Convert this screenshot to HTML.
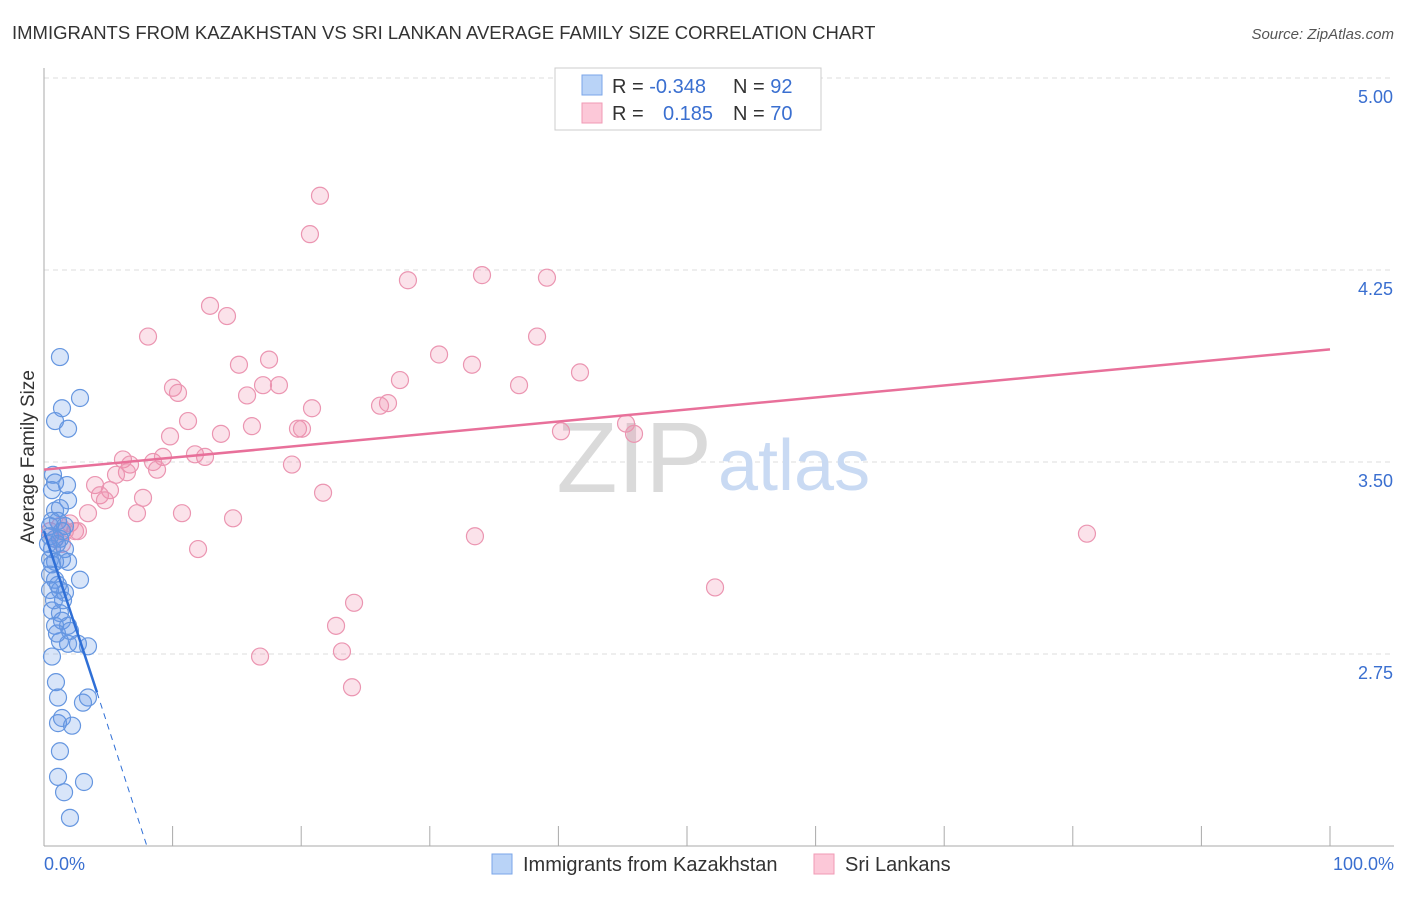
<!DOCTYPE html>
<html><head><meta charset="utf-8"><style>
body{margin:0;background:#fff;font-family:"Liberation Sans",sans-serif;}
svg text{font-family:"Liberation Sans",sans-serif;}
</style></head><body>
<svg width="1406" height="892">
<text x="12" y="39" font-size="18.5" fill="#333">IMMIGRANTS FROM KAZAKHSTAN VS SRI LANKAN AVERAGE FAMILY SIZE CORRELATION CHART</text>
<text x="1394" y="39" font-size="15" fill="#555" text-anchor="end" font-style="italic">Source: ZipAtlas.com</text>
<g id="grid"></g>
<text x="712" y="492" font-size="100" fill="#dadada" text-anchor="end" font-family="Liberation Serif">ZIP</text>
<text x="718" y="490" font-size="72" fill="#c9daf3">atlas</text>
<line x1="44" y1="68" x2="44" y2="846" stroke="#aaa"/>
<line x1="44" y1="846" x2="1394" y2="846" stroke="#aaa"/>
<text x="34" y="457" font-size="19" fill="#333" text-anchor="middle" transform="rotate(-90 34 457)">Average Family Size</text>
<text x="44" y="870" font-size="18" fill="#3a6fd0">0.0%</text>
<text x="1394" y="870" font-size="18" fill="#3a6fd0" text-anchor="end">100.0%</text>
<g id="pts"></g>
<g id="lines"></g>
<g>
<rect x="555" y="68" width="266" height="62" fill="#fff" stroke="#ccc"/>
<rect x="582" y="75" width="20" height="20" fill="#b9d3f7" stroke="#7aa6e8"/>
<rect x="582" y="103" width="20" height="20" fill="#fcc8d8" stroke="#f09ab5"/>
<text x="612" y="93" font-size="20" fill="#333">R = <tspan fill="#3a6fd0">-0.348</tspan></text>
<text x="733" y="93" font-size="20" fill="#333">N = <tspan fill="#3a6fd0">92</tspan></text>
<text x="612" y="120" font-size="20" fill="#333">R = </text>
<text x="663" y="120" font-size="20" fill="#3a6fd0">0.185</text>
<text x="733" y="120" font-size="20" fill="#333">N = <tspan fill="#3a6fd0">70</tspan></text>
</g>
<g>
<rect x="492" y="854" width="20" height="20" fill="#b9d3f7" stroke="#7aa6e8"/>
<text x="523" y="871" font-size="20" fill="#333">Immigrants from Kazakhstan</text>
<rect x="814" y="854" width="20" height="20" fill="#fcc8d8" stroke="#f09ab5"/>
<text x="845" y="871" font-size="20" fill="#333">Sri Lankans</text>
</g>
</svg>
<script>
const yTicks=[2.75,3.5,4.25,5.0];
const yTickLabels=["2.75","3.50","4.25","5.00"];
const xTicks=[0,10,20,30,40,50,60,70,80,90,100];
const blueX=[1.24,1.40,2.80,0.86,1.87,0.70,0.86,1.79,0.62,1.87,0.86,1.24,0.62,1.09,1.63,0.47,0.86,1.24,0.62,1.63,0.47,0.86,1.40,1.87,0.47,0.86,0.47,1.24,1.63,2.80,0.62,1.24,0.86,1.40,1.87,1.24,1.87,2.64,3.42,0.62,0.93,1.09,3.42,3.03,1.09,1.40,2.18,1.24,1.09,3.11,1.56,2.02,0.47,1.01,0.62,1.09,1.48,1.01,2.02,0.31,1.40,0.78];
const blueY=[3.91,3.71,3.75,3.66,3.63,3.45,3.42,3.41,3.39,3.35,3.31,3.32,3.27,3.27,3.25,3.25,3.20,3.20,3.16,3.16,3.12,3.11,3.12,3.11,3.06,3.04,3.00,3.00,2.99,3.04,2.92,2.91,2.86,2.88,2.86,2.80,2.79,2.79,2.78,2.74,2.64,2.58,2.58,2.56,2.48,2.50,2.47,2.37,2.27,2.25,2.21,2.11,3.21,3.18,3.10,3.02,2.96,2.83,2.84,3.18,3.23,2.96];
const pinkX=[21.46,20.68,28.30,34.06,39.11,12.91,14.23,8.09,38.34,30.72,33.28,17.50,15.16,41.68,27.68,36.94,10.03,10.42,17.03,18.27,15.79,26.75,26.13,20.84,11.20,19.75,20.06,16.17,13.76,9.80,40.20,45.26,45.88,11.74,12.52,6.14,8.48,9.25,6.69,8.79,6.45,5.60,19.28,3.97,5.13,4.35,4.74,7.70,21.70,3.42,7.23,10.73,14.70,1.24,2.02,2.41,2.64,1.63,33.51,81.10,11.98,52.18,24.11,22.71,23.17,16.80,23.95,0.86,1.40,0.47];
const pinkY=[4.54,4.39,4.21,4.23,4.22,4.11,4.07,3.99,3.99,3.92,3.88,3.90,3.88,3.85,3.82,3.80,3.79,3.77,3.80,3.80,3.76,3.73,3.72,3.71,3.66,3.63,3.63,3.64,3.61,3.60,3.62,3.65,3.61,3.53,3.52,3.51,3.50,3.52,3.49,3.47,3.46,3.45,3.49,3.41,3.39,3.37,3.35,3.36,3.38,3.30,3.30,3.30,3.28,3.25,3.26,3.23,3.23,3.23,3.21,3.22,3.16,3.01,2.95,2.86,2.76,2.74,2.62,3.20,3.18,3.23];
const pinkTrend=[[0,3.47],[100,3.94]];
const blueTrendSolid=[[0,3.23],[4.12,2.60]];
const blueTrendDash=[[4.12,2.60],[8.0,2.0]];
const NS='http://www.w3.org/2000/svg';
const xs=v=>44+v*12.86, ys=v=>846-(v-2)*256;
function mk(t,a,p){const e=document.createElementNS(NS,t);for(const k in a)e.setAttribute(k,a[k]);p.appendChild(e);return e;}
const grid=document.getElementById('grid');
yTicks.forEach((t,i)=>{
 const l=mk('line',{x1:44,x2:1394,y1:ys(t),y2:ys(t),stroke:'#ddd','stroke-dasharray':'5,4'},grid);
 
 
 const tx=mk('text',{x:1393,y:ys(t)+25,'font-size':18,fill:'#3a6fd0','text-anchor':'end'},grid);
 tx.textContent=yTickLabels[i];
 
 
});
xTicks.forEach(t=>{
 const l=mk('line',{x1:xs(t),x2:xs(t),y1:826,y2:846,stroke:'#aaa'},grid);
 
 
});
const pts=document.getElementById('pts');
pinkX.forEach((x,i)=>{
 const c=mk('circle',{cx:xs(x),cy:ys(pinkY[i]),r:8.5,fill:'rgba(240,140,170,0.25)',stroke:'#eb95b1','stroke-width':1.2},pts);
 
 
});
blueX.forEach((x,i)=>{
 const c=mk('circle',{cx:xs(x),cy:ys(blueY[i]),r:8.5,fill:'rgba(100,150,230,0.25)',stroke:'#6596e0','stroke-width':1.2},pts);
 
 
});
const lines=document.getElementById('lines');
function ln(d,st,w,dash,name){const l=mk('line',{x1:xs(d[0][0]),y1:ys(d[0][1]),x2:xs(d[1][0]),y2:ys(d[1][1]),stroke:st,'stroke-width':w},lines);if(dash)l.setAttribute('stroke-dasharray',dash);
 
 }
ln(pinkTrend,'#e8709a',2.5,null,'trend-sri-lankan');
ln(blueTrendSolid,'#2f6fd6',2.5,null,'trend-kazakhstan');
ln(blueTrendDash,'#2f6fd6',1,'6,5','trend-kazakhstan-extension');
</script>
</body></html>
